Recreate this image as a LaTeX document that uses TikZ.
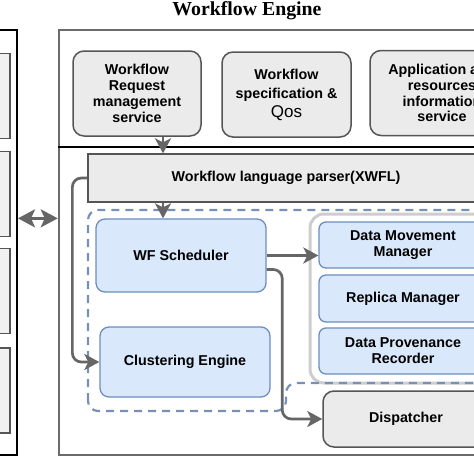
\documentclass[tikz,border=0pt]{standalone}
\usepackage{fontspec}
\setmainfont{Liberation Sans}
\newfontfamily\headfont{Liberation Serif}
\usepackage{tikz}
\usetikzlibrary{arrows.meta}
\usepackage{xcolor}
\definecolor{boxgray}{HTML}{EBEBEB}
\definecolor{slotgray}{HTML}{F1F1F1}
\definecolor{edgegray}{HTML}{555555}
\definecolor{framegray}{HTML}{6B6B6B}
\definecolor{linkgray}{HTML}{666666}
\definecolor{bluefill}{HTML}{DAE8FC}
\definecolor{blueedge}{HTML}{6C8EBF}
\definecolor{dashblue}{HTML}{7890B5}
\definecolor{holdgray}{HTML}{CDCDCD}

\begin{document}
\begin{tikzpicture}[
  x=1pt, y=-1pt,
  svc/.style={draw=edgegray, fill=boxgray, line width=1.5pt, rounded corners=11pt,
    align=center, font=\bfseries\fontsize{14.3}{15.8}\selectfont},
  blk/.style={draw=blueedge, fill=bluefill, line width=1.3pt, rounded corners=9pt,
    align=center, font=\bfseries\fontsize{14.3}{15.8}\selectfont},
  slot/.style={draw=edgegray, fill=slotgray, line width=1.5pt, minimum width=30, minimum height=85},
  link/.style={draw=linkgray, line width=2.7pt, -{Stealth[length=15pt, width=16pt, inset=4pt]}}
]
\useasboundingbox (0,0) rectangle (474,474);
\clip (0,0) rectangle (474,474);

% Title
\node[font=\headfont\bfseries\fontsize{19.8}{22}\selectfont, anchor=base] (title) at (247,15.5) {Workflow Engine};

% Client side panel
\node[draw=black, fill=white, line width=2pt, minimum width=37, minimum height=425] (client) at (-1.5,242.5) {};
\foreach \y/\i in {96/1, 194/2, 291/3, 390.5/4}
  \node[slot] (slot\i) at (-5,\y) {};

% Engine frame
\node[draw=framegray, line width=2.5pt, minimum width=481, minimum height=425] (engine) at (299.5,242.5) {};
\coordinate (sep) at (0,147);
\draw[black, line width=2.5pt] (engine.west |- sep) -- (engine.east |- sep);

% Services
\node[svc, minimum width=128, minimum height=85] (wfreq) at (137,93.5) {Workflow\\Request\\management\\service};
\node[svc, minimum width=129, minimum height=85, font=\bfseries\fontsize{14.3}{19}\selectfont] (wfspec) at (286.5,94.5)
  {Workflow\\specification \&\\{\mdseries\fontsize{17}{19}\selectfont Qos}};
\node[svc, minimum width=144, minimum height=85] (appinfo) at (442,93) {Application and\\resources\\information\\service};

% Parser
\node[svc, rounded corners=0pt, line width=1.3pt, minimum width=396, minimum height=48] (parser) at (286,178) {Workflow language parser(XWFL)};

% Data management group
\draw[holdgray, line width=3pt, rounded corners=14pt] (310,214) rectangle (560,383);
\node[blk, minimum width=168, minimum height=46, rounded corners=7pt] (dmm) at (403,245) {Data Movement\\Manager};
\node[blk, minimum width=168, minimum height=47, rounded corners=7pt] (replica) at (403,298.5) {Replica Manager};
\node[blk, minimum width=168, minimum height=46, rounded corners=7pt] (prov) at (403,351) {Data Provenance\\Recorder};

% Dashed region
\draw[dashblue, line width=2.2pt, dash pattern=on 8pt off 6pt, rounded corners=10pt]
  (88,411) -- (88,210) -- (560,210) -- (560,383) -- (286,383) -- (286,411) -- cycle;

% Scheduling
\node[blk, minimum width=170, minimum height=73] (sched) at (181,255.5) {WF Scheduler};
\node[blk, minimum width=170, minimum height=70] (cluster) at (185,362) {Clustering Engine};
\node[svc, minimum width=166, minimum height=56] (disp) at (406,419) {Dispatcher};

% Connectors
\coordinate (feed) at (163,0);
\draw[link] (wfreq.south -| feed) -- (parser.north -| feed);
\draw[link] (parser.south -| feed) -- (sched.north -| feed);
\draw[link, rounded corners=9pt] (parser.west) -- ++(-15,0) |- (cluster.west);
\draw[link] (sched.east) -- (sched.east -| dmm.west);
\draw[link, rounded corners=9pt] ([yshift=-14pt]sched.east) -| ([xshift=-40pt]disp.west) -- (disp.west);
\draw[draw=linkgray, line width=2.7pt, {Stealth[length=17pt, width=18pt, inset=4pt]}-{Stealth[length=17pt, width=18pt, inset=4pt]}]
  (client.east |- sched.north) -- (engine.west |- sched.north);
\end{tikzpicture}
\end{document}
